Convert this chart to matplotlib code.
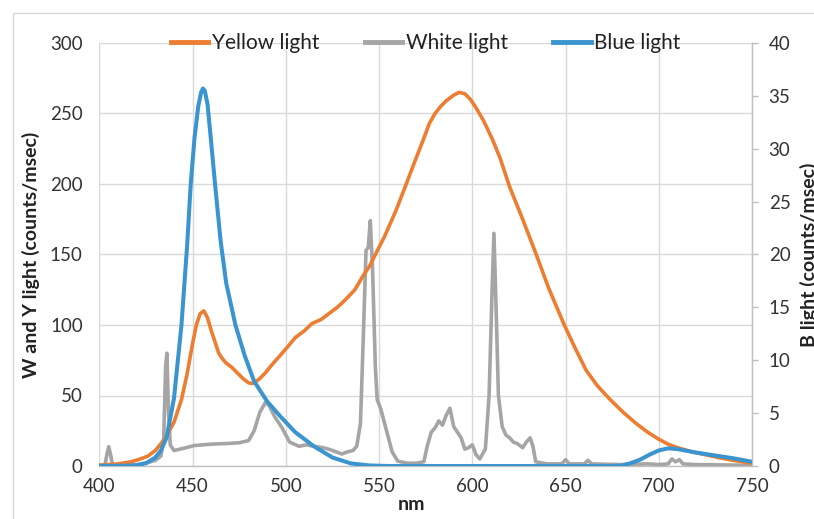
import matplotlib
matplotlib.use("Agg")
import matplotlib.pyplot as plt
from matplotlib.patches import Rectangle

plt.rcParams['font.family'] = ['Lato', 'DejaVu Sans']

# ---------------- data ----------------
yellow_nm = [400, 410, 417, 422, 426, 430, 435, 440, 444, 447, 450, 452, 454, 456, 458, 460,
             462, 464, 466, 468, 471, 474, 477, 480, 482, 484, 486, 489, 492, 496, 500, 505,
             510, 514, 519, 523, 528, 532, 537, 541, 545, 548, 553, 559, 564, 568, 573, 577,
             580, 583, 586, 590, 593, 596, 599, 602, 606, 611, 615, 620, 627, 634, 641, 649,
             655, 661, 667, 674, 681, 688, 694, 700, 705, 710, 718, 725, 732, 740, 745, 750]
yellow_val = [0.5, 1.5, 3, 5, 7, 11, 19, 31, 47, 65, 87, 100, 108, 110, 105, 96,
              88, 80, 76, 73, 70, 66, 62, 59, 58.5, 60, 62, 66, 71, 77, 83, 91,
              96, 101, 104, 108, 113, 118, 125, 134, 142, 150, 163, 181, 198, 212, 229, 243,
              250, 255, 259, 263, 265, 264, 260, 254, 245, 231, 218, 198, 175, 151, 126, 101,
              84, 68, 57, 47, 38, 30, 24, 19, 15.5, 13, 10, 8, 6, 4, 3, 2]

white_nm = [400, 403, 404, 405, 406, 407, 410, 420, 425, 430, 433, 434.5, 435.5, 436.2, 437, 438,
            440, 445, 451, 460, 469, 475, 480, 483, 486, 489, 491, 494, 498, 502, 507, 511,
            515, 520, 524, 530, 533, 536, 538, 540, 541.5, 543, 544.2, 545.3, 546.5, 548, 549,
            551, 554, 557, 560, 565, 570, 574, 576, 578, 580, 582, 584, 586, 588, 590, 592,
            594, 596, 598, 600, 602, 604, 607, 609, 610.5, 611.6, 612.8, 614, 616, 618, 620,
            622, 624, 627, 629, 631, 632.5, 634, 640, 648, 650, 652, 660, 662, 664, 680, 694,
            700, 705, 707, 709, 711, 713, 720, 750]
white_val = [0.5, 1, 8, 13.7, 8, 1, 0.5, 1, 2, 4, 7, 20, 70, 80, 40, 15,
             11, 12.5, 14.5, 15.5, 16, 16.5, 18, 25, 38, 45, 43, 35, 27, 17, 14, 15,
             14, 13, 11.5, 8.5, 10, 11, 14, 30, 90, 153, 155, 174, 140, 70, 47,
             40, 25, 10, 3.5, 2, 2, 3, 15, 24, 27, 32, 29, 36, 41, 28, 24,
             20, 12, 13, 15, 8, 5, 12, 50, 120, 165, 110, 50, 28, 22, 20,
             17, 16, 13, 17, 20, 14, 3, 1.5, 1.5, 4.5, 1.5, 1.5, 4, 1.5, 1, 1.5,
             1, 1.5, 5, 3, 4.5, 1.5, 1, 0.5]

blue_nm = [400, 415, 420, 425, 430, 433, 436, 440, 444, 447, 449, 451, 453, 454.5, 455.5, 456.5,
           458, 460, 462, 465, 468, 473, 478, 483, 490, 497, 505, 515, 525, 535, 545, 555,
           675, 680, 685, 690, 695, 700, 705, 710, 720, 730, 740, 750]
blue_val = [0, 0.03, 0.07, 0.27, 0.8, 1.47, 2.67, 6.4, 13.3, 20.7, 26.7, 31.0, 34.0, 35.3, 35.7, 35.5,
            34.2, 30.5, 26.7, 21.3, 17.3, 13.3, 10.4, 8.0, 6.1, 4.7, 3.2, 1.87, 0.8, 0.24, 0.05, 0,
            0, 0.04, 0.27, 0.6, 1.07, 1.47, 1.67, 1.6, 1.27, 1.0, 0.73, 0.4]

x_ticks = [400, 450, 500, 550, 600, 650, 700, 750]
left_ticks = [0, 50, 100, 150, 200, 250, 300]
right_ticks = [0, 5, 10, 15, 20, 25, 30, 35, 40]

# ---------------- figure ----------------
W, H = 814, 519
fig = plt.figure(figsize=(W / 100, H / 100), dpi=100)
ax = fig.add_axes([99.4 / W, 1 - 466 / H, (752 - 99.4) / W, (466 - 43) / H])
ax2 = ax.twinx()

c_y = '#ED7D31'
c_w = '#A5A5A5'
c_b = '#3A94D0'
grid_c = '#D9D9D9'
txt_c = '#333333'

l1, = ax.plot(yellow_nm, yellow_val, color=c_y, lw=2.6, label='Yellow light', zorder=3,
              solid_joinstyle='round')
l2, = ax.plot(white_nm, white_val, color=c_w, lw=2.6, label='White light', zorder=2,
              solid_joinstyle='round')
l3, = ax2.plot(blue_nm, blue_val, color=c_b, lw=2.9, label='Blue light', zorder=3,
               solid_joinstyle='round')

ax.set_xlim(400, 750)
ax.set_ylim(0, 300)
ax2.set_ylim(0, 40)
ax.set_xticks(x_ticks)
ax.set_yticks(left_ticks)
ax2.set_yticks(right_ticks)

ax.grid(True, color=grid_c, lw=1.0)
ax.set_axisbelow(True)
for s in ['top', 'left', 'right']:
    ax.spines[s].set_visible(False)
for s in ['top', 'left', 'bottom']:
    ax2.spines[s].set_visible(False)
ax.spines['bottom'].set_color('#BFBFBF')
ax.spines['bottom'].set_linewidth(1.0)
ax2.spines['right'].set_color('#BFBFBF')
ax2.spines['right'].set_linewidth(1.0)

tfs = 13.5
ax.tick_params(axis='x', length=0, pad=9, labelsize=tfs, labelcolor=txt_c)
ax.tick_params(axis='y', length=0, pad=12, labelsize=tfs, labelcolor=txt_c)
ax2.tick_params(axis='y', length=4, width=1, color='#BFBFBF', pad=8, labelsize=tfs, labelcolor=txt_c)

ax.set_xlabel('nm', fontsize=14, fontweight='bold', color='#222222', labelpad=0)
ax.xaxis.set_label_coords(0.478, -0.072)
ax.set_ylabel('W and Y light (counts/msec)', fontsize=14, fontweight='bold', color='#222222', labelpad=7)
ax2.set_ylabel('B light (counts/msec)', fontsize=14, fontweight='bold', color='#222222', labelpad=7)

leg = ax.legend(handles=[l1, l2, l3], loc='center', bbox_to_anchor=(0.5, 1.0), ncol=3,
                frameon=False, fontsize=15, handlelength=1.8, handletextpad=0.15,
                columnspacing=2.2)
for t in leg.get_texts():
    t.set_color('#222222')
for h in leg.legend_handles:
    h.set_linewidth(3.5)

# outer chart border
fig.patches.append(Rectangle((12.5 / W, -0.05), 1.1, 1 - 13 / H + 0.05, transform=fig.transFigure,
                             fill=False, edgecolor=grid_c, lw=1.0, zorder=0))

fig.savefig('out.png', dpi=100)
